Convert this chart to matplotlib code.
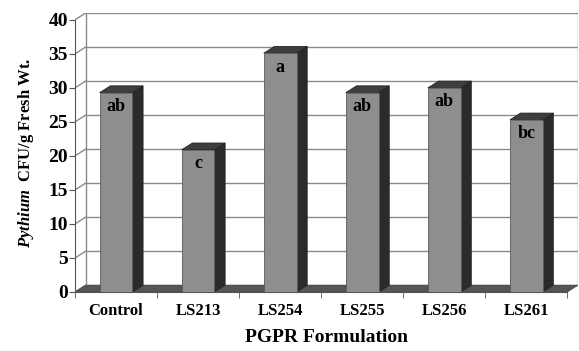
import matplotlib
matplotlib.use("Agg")
import matplotlib.pyplot as plt
from matplotlib.patches import Polygon

plt.rcParams['font.family'] = ['Liberation Serif', 'DejaVu Serif']
plt.rcParams['font.weight'] = 'bold'
plt.rcParams['mathtext.fontset'] = 'custom'
plt.rcParams['mathtext.it'] = 'Liberation Serif:italic:bold'
plt.rcParams['mathtext.rm'] = 'Liberation Serif:bold'

categories = ['Control', 'LS213', 'LS254', 'LS255', 'LS256', 'LS261']
values = [29.3, 20.9, 35.1, 29.3, 30.0, 25.3]
letters = ['ab', 'c', 'a', 'ab', 'ab', 'bc']
yticks = [0, 5, 10, 15, 20, 25, 30, 35, 40]

# depth of the 3d look, in data units
dx = 0.13
dy = 1.0
bw = 0.40
ymax = 40

fig = plt.figure(figsize=(5.79, 3.51), dpi=100)
ax = fig.add_axes([75 / 579, 59 / 351, 503 / 579, 279 / 351])
n = len(categories)
ax.set_xlim(-0.5, n - 0.5 + dx)
ax.set_ylim(0, ymax + dy)

grid_c = '#8a8a8a'
# back wall gridlines and left wall slants
for v in yticks:
    ax.plot([-0.5 + dx, n - 0.5 + dx], [v + dy, v + dy], color=grid_c, lw=1, zorder=1)
    ax.plot([-0.5, -0.5 + dx], [v, v + dy], color=grid_c, lw=1, zorder=1)
ax.plot([-0.5 + dx, -0.5 + dx], [dy, ymax + dy], color=grid_c, lw=1, zorder=1)
ax.plot([n - 0.5 + dx, n - 0.5 + dx], [dy, ymax + dy], color=grid_c, lw=1, zorder=1)

# floor
ax.add_patch(Polygon([(-0.5, 0), (n - 0.5, 0), (n - 0.5 + dx, dy), (-0.5 + dx, dy)],
                     closed=True, facecolor='#555555', edgecolor='#444444', lw=0.5, zorder=2))

# bars
xs = list(range(n))
ax.bar(xs, values, width=bw, color='#8e8e8e', edgecolor='#5a5a5a', lw=0.6, zorder=4)
for x, v, lab in zip(xs, values, letters):
    l, r = x - bw / 2, x + bw / 2
    ax.add_patch(Polygon([(r, 0), (r + dx, dy), (r + dx, v + dy), (r, v)],
                         closed=True, facecolor='#2b2b2b', edgecolor='#1e1e1e', lw=0.5, zorder=3))
    ax.add_patch(Polygon([(l, v), (r, v), (r + dx, v + dy), (l + dx, v + dy)],
                         closed=True, facecolor='#3e3e3e', edgecolor='#1e1e1e', lw=0.5, zorder=3))
    ax.text(x, v - 0.8, lab, ha='center', va='top', fontsize=13, fontweight='bold', zorder=5)

for s in ['top', 'right']:
    ax.spines[s].set_visible(False)
ax.spines['left'].set_bounds(0, ymax)
ax.spines['bottom'].set_bounds(-0.5, n - 0.5)
ax.spines['left'].set_color('#555555')
ax.spines['bottom'].set_color('#555555')

ax.set_yticks(yticks)
ax.set_yticklabels([str(t) for t in yticks], fontsize=14, fontweight='bold')
ax.tick_params(axis='y', length=4, color='#555555', pad=1)
ax.set_xticks(xs)
ax.set_xticklabels(categories, fontsize=12, fontweight='bold')
ax.set_xticks([i - 0.5 for i in range(n + 1)], minor=True)
ax.tick_params(axis='x', which='major', length=0, pad=8)
ax.tick_params(axis='x', which='minor', length=4, color='#555555')

ax.set_xlabel('PGPR Formulation', fontsize=14, fontweight='bold', labelpad=7)
ax.set_ylabel(r'$\it{Pythium}$  CFU/g Fresh Wt.', fontsize=12, fontweight='bold', labelpad=9)

fig.savefig('out.png', dpi=100)
